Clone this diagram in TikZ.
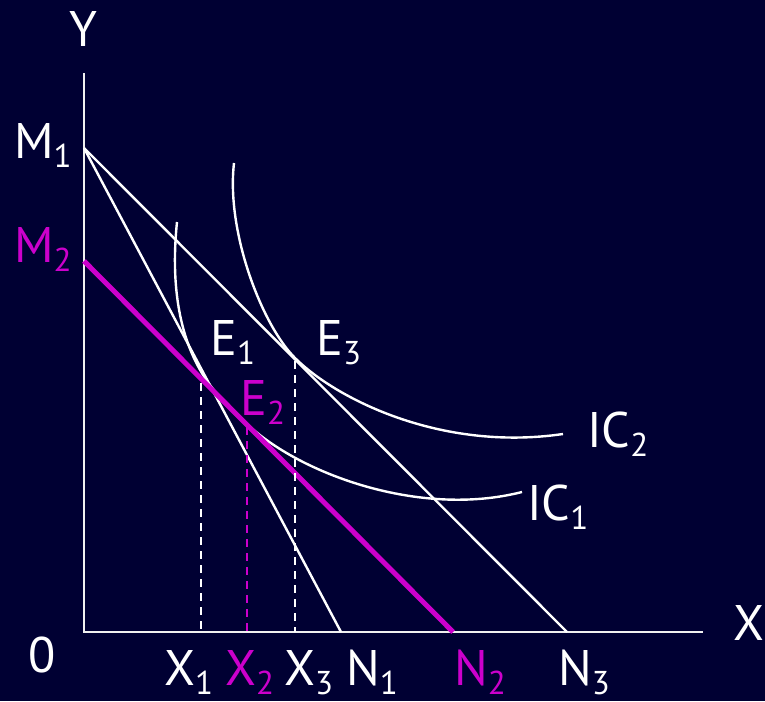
\documentclass[tikz,border=0pt]{standalone}
\usepackage{fontspec}
\setmainfont{PT Sans}
\definecolor{bgnavy}{RGB}{0,0,51}
\definecolor{mag}{RGB}{204,0,204}
\newcommand\subs[1]{\raisebox{-0.18em}{\fontsize{33}{33}\selectfont #1}}
\begin{document}
\begin{tikzpicture}[x=1pt,y=-1pt,
  lbl/.style={text=white,inner sep=0pt,font=\fontsize{50}{60}\selectfont},
  mlbl/.style={lbl,text=mag},
  axis/.style={white!88!gray,line width=2pt},
  budget/.style={white,line width=2.4pt},
  mbudget/.style={mag,line width=5pt},
  icurve/.style={white,line width=2.4pt},
  dropline/.style={white,line width=2pt,dash pattern=on 8pt off 6pt},
  mdropline/.style={mag,line width=2pt,dash pattern=on 8pt off 6pt}]
\fill[bgnavy] (0,0) rectangle (765,701);
\useasboundingbox (0,0) rectangle (765,701);
% key points
\coordinate (O) at (84,632);
\coordinate (Ytop) at (84,73);
\coordinate (Xend) at (703,632);
\coordinate (M1) at (84,148);
\coordinate (M2) at (84,261);
\coordinate (N1) at (341,632);
\coordinate (N2) at (453,632);
\coordinate (N3) at (567,632);
\coordinate (E1) at (201,383);
\coordinate (E2) at (247,427);
\coordinate (E3) at (295,361);
\coordinate (X1) at (201,632);
\coordinate (X2) at (247,632);
\coordinate (X3) at (295,632);
\coordinate (IC1a) at (177,222);
\coordinate (IC1b) at (199,368);
\coordinate (IC1c) at (247,424);
\coordinate (IC1d) at (522,492);
\coordinate (IC2a) at (234,163);
\coordinate (IC2b) at (295,358);
\coordinate (IC2c) at (563,434);
% axes
\draw[axis] (Ytop) -- (O) -- (Xend);
% budget lines
\draw[budget] (M1) -- (N1);
\draw[budget] (M1) -- (N3);
% indifference curves
\draw[icurve] (IC1a) .. controls (171,280) and (178,330) .. (IC1b)
  .. controls (212,392) and (232,410) .. (IC1c)
  .. controls (300,474) and (420,518) .. (IC1d);
\draw[icurve] (IC2a) .. controls (226,232) and (262,325) .. (IC2b)
  .. controls (335,398) and (440,452) .. (IC2c);
% compensated budget line
\draw[mbudget] (M2) -- (N2);
% drop lines
\draw[dropline] (E1) -- (X1);
\draw[mdropline] (E2) -- (X2);
\draw[dropline] (E3) -- (X3);
% labels
\node[lbl,anchor=base] (lY) at (83,47) {Y};
\node[lbl,anchor=base west] (lX) at (733,640) {X};
\node[lbl,anchor=base west] (lO) at (28,672) {0};
\node[lbl,anchor=base west] (lM1) at (14,158) {M\subs{1}};
\node[mlbl,anchor=base west] (lM2) at (14,262) {M\subs{2}};
\node[lbl,anchor=base west] (lE1) at (210,355) {E\subs{1}};
\node[lbl,anchor=base west] (lE3) at (316,355) {E\subs{3}};
\node[mlbl,anchor=base west] (lE2) at (240,415) {E\subs{2}};
\node[lbl,anchor=base west] (lIC2) at (587,447) {IC\subs{2}};
\node[lbl,anchor=base west] (lIC1) at (527,520) {IC\subs{1}};
\node[lbl,anchor=base west] (lX1) at (164,685) {X\subs{1}};
\node[mlbl,anchor=base west] (lX2) at (225,685) {X\subs{2}};
\node[lbl,anchor=base west] (lX3) at (284,685) {X\subs{3}};
\node[lbl,anchor=base west] (lN1) at (346,685) {N\subs{1}};
\node[mlbl,anchor=base west] (lN2) at (454,685) {N\subs{2}};
\node[lbl,anchor=base west] (lN3) at (558,685) {N\subs{3}};
\end{tikzpicture}
\end{document}
